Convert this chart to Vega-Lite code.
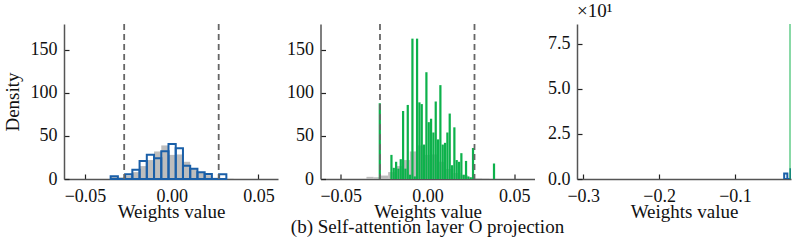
{
  "$schema": "https://vega.github.io/schema/vega-lite/v6.json",
  "padding": {"left": 3, "top": 2, "right": 4, "bottom": 3},
  "spacing": 42.5,
  "bounds": "flush",
  "config": {
    "font": "Liberation Serif",
    "view": {"stroke": null},
    "axis": {
      "grid": false,
      "domainColor": "#555555",
      "domainWidth": 1.5,
      "tickColor": "#222222",
      "tickSize": -5,
      "tickWidth": 1.2,
      "labelFont": "Liberation Serif",
      "labelFontSize": 18,
      "labelColor": "#111111",
      "titleFont": "Liberation Serif",
      "titleFontSize": 19,
      "titleFontWeight": "normal",
      "titleColor": "#111111"
    },
    "axisX": {"labelPadding": 13, "titlePadding": -3, "labelFlush": false},
    "axisY": {"labelPadding": 12, "titlePadding": 8}
  },
  "datasets": {
    "gray": [
      {"x0": -0.0352, "x1": -0.03103, "density": 2.5},
      {"x0": -0.03103, "x1": -0.02686, "density": 2},
      {"x0": -0.02686, "x1": -0.02269, "density": 4},
      {"x0": -0.02269, "x1": -0.01852, "density": 8},
      {"x0": -0.01852, "x1": -0.01435, "density": 15},
      {"x0": -0.01435, "x1": -0.01018, "density": 22},
      {"x0": -0.01018, "x1": -0.00601, "density": 32},
      {"x0": -0.00601, "x1": -0.00184, "density": 39},
      {"x0": -0.00184, "x1": 0.00233, "density": 28},
      {"x0": 0.00233, "x1": 0.0065, "density": 28.5},
      {"x0": 0.0065, "x1": 0.01067, "density": 20},
      {"x0": 0.01067, "x1": 0.01484, "density": 11.5},
      {"x0": 0.01484, "x1": 0.01901, "density": 7},
      {"x0": 0.01901, "x1": 0.02318, "density": 4.5},
      {"x0": 0.02318, "x1": 0.02735, "density": 1.5},
      {"x0": 0.02735, "x1": 0.03152, "density": 1},
      {"x0": 0.03152, "x1": 0.03569, "density": 0.5}
    ],
    "blue": [
      {"x0": -0.0352, "x1": -0.03103, "density": 3.1},
      {"x0": -0.03103, "x1": -0.02686, "density": 0},
      {"x0": -0.02686, "x1": -0.02269, "density": 5.4},
      {"x0": -0.02269, "x1": -0.01852, "density": 10.8},
      {"x0": -0.01852, "x1": -0.01435, "density": 20.9},
      {"x0": -0.01435, "x1": -0.01018, "density": 28.2},
      {"x0": -0.01018, "x1": -0.00601, "density": 24},
      {"x0": -0.00601, "x1": -0.00184, "density": 32.1},
      {"x0": -0.00184, "x1": 0.00233, "density": 40.6},
      {"x0": 0.00233, "x1": 0.0065, "density": 35.6},
      {"x0": 0.0065, "x1": 0.01067, "density": 15.5},
      {"x0": 0.01067, "x1": 0.01484, "density": 12},
      {"x0": 0.01484, "x1": 0.01901, "density": 7.7},
      {"x0": 0.01901, "x1": 0.02318, "density": 5.8},
      {"x0": 0.02318, "x1": 0.02735, "density": 0},
      {"x0": 0.02735, "x1": 0.03152, "density": 5.4}
    ],
    "green": [
      {"x0": -0.02815, "x1": -0.02687, "density": 88},
      {"x0": -0.02143, "x1": -0.02015, "density": 28},
      {"x0": -0.02009, "x1": -0.01881, "density": 13},
      {"x0": -0.01874, "x1": -0.01746, "density": 20},
      {"x0": -0.0174, "x1": -0.01612, "density": 12},
      {"x0": -0.01606, "x1": -0.01478, "density": 23},
      {"x0": -0.01471, "x1": -0.01343, "density": 79},
      {"x0": -0.01337, "x1": -0.01209, "density": 12},
      {"x0": -0.01202, "x1": -0.01074, "density": 86},
      {"x0": -0.01068, "x1": -0.0094, "density": 5},
      {"x0": -0.00933, "x1": -0.00805, "density": 163},
      {"x0": -0.00799, "x1": -0.00671, "density": 3},
      {"x0": -0.00665, "x1": -0.00537, "density": 163},
      {"x0": -0.0053, "x1": -0.00402, "density": 89},
      {"x0": -0.00396, "x1": -0.00268, "density": 87},
      {"x0": -0.00261, "x1": -0.00133, "density": 40},
      {"x0": -0.00127, "x1": 0.00001, "density": 124},
      {"x0": 0.00007, "x1": 0.00135, "density": 66},
      {"x0": 0.00142, "x1": 0.0027, "density": 70},
      {"x0": 0.00276, "x1": 0.00404, "density": 54},
      {"x0": 0.00411, "x1": 0.00539, "density": 90},
      {"x0": 0.00545, "x1": 0.00673, "density": 46},
      {"x0": 0.00679, "x1": 0.00807, "density": 109},
      {"x0": 0.00814, "x1": 0.00942, "density": 40},
      {"x0": 0.00948, "x1": 0.01076, "density": 42},
      {"x0": 0.01083, "x1": 0.01211, "density": 54},
      {"x0": 0.01217, "x1": 0.01345, "density": 76},
      {"x0": 0.01351, "x1": 0.01479, "density": 16},
      {"x0": 0.01486, "x1": 0.01614, "density": 60},
      {"x0": 0.0162, "x1": 0.01748, "density": 22},
      {"x0": 0.01755, "x1": 0.01883, "density": 20},
      {"x0": 0.01889, "x1": 0.02017, "density": 30},
      {"x0": 0.02023, "x1": 0.02151, "density": 5},
      {"x0": 0.02158, "x1": 0.02286, "density": 21},
      {"x0": 0.02292, "x1": 0.0242, "density": 3},
      {"x0": 0.02427, "x1": 0.02555, "density": 2},
      {"x0": 0.02561, "x1": 0.02689, "density": 36},
      {"x0": 0.03771, "x1": 0.03899, "density": 18}
    ],
    "lines": [{"x": -0.0274}, {"x": 0.0271}]
  },
  "hconcat": [
    {
      "width": 214,
      "height": 155,
      "layer": [
        {
          "data": {"name": "gray"},
          "mark": {"type": "bar", "color": "#bdbdbd"},
          "encoding": {
            "x": {"field": "x0", "type": "quantitative", "scale": {"domain": [-0.0621, 0.0613], "nice": false, "zero": false},
              "axis": {"values": [-0.05, 0, 0.05], "format": ".2f", "title": "Weights value"}},
            "x2": {"field": "x1"},
            "y": {"field": "density", "type": "quantitative", "scale": {"domain": [0, 180], "nice": false},
              "axis": {"values": [0, 50, 100, 150], "format": "d", "title": "Density"}},
            "y2": {"datum": 0}
          }
        },
        {
          "data": {"name": "blue"},
          "mark": {"type": "bar", "fill": "transparent", "stroke": "#1a5fa8", "strokeWidth": 2},
          "encoding": {
            "x": {"field": "x0", "type": "quantitative"},
            "x2": {"field": "x1"},
            "y": {"field": "density", "type": "quantitative"},
            "y2": {"datum": 0}
          }
        },
        {
          "data": {"name": "lines"},
          "mark": {"type": "rule", "color": "#666666", "strokeWidth": 1.8, "strokeDash": [6, 4]},
          "encoding": {"x": {"field": "x", "type": "quantitative"}}
        }
      ]
    },
    {
      "width": 214,
      "height": 155,
      "title": {"text": "(b) Self-attention layer O projection", "orient": "bottom", "anchor": "middle", "frame": "group", "font": "Liberation Serif", "fontSize": 19, "fontWeight": "normal", "color": "#111111", "offset": -3},
      "layer": [
        {
          "data": {"name": "gray"},
          "mark": {"type": "bar", "color": "#bdbdbd"},
          "encoding": {
            "x": {"field": "x0", "type": "quantitative", "scale": {"domain": [-0.0617, 0.0617], "nice": false, "zero": false},
              "axis": {"values": [-0.05, 0, 0.05], "format": ".2f", "title": "Weights value"}},
            "x2": {"field": "x1"},
            "y": {"field": "density", "type": "quantitative", "scale": {"domain": [0, 180], "nice": false},
              "axis": {"values": [0, 50, 100, 150], "format": "d", "title": null}},
            "y2": {"datum": 0}
          }
        },
        {
          "data": {"name": "green"},
          "mark": {"type": "bar", "color": "#0db14b"},
          "encoding": {
            "x": {"field": "x0", "type": "quantitative"},
            "x2": {"field": "x1"},
            "y": {"field": "density", "type": "quantitative"},
            "y2": {"datum": 0}
          }
        },
        {
          "data": {"name": "lines"},
          "mark": {"type": "rule", "color": "#666666", "strokeWidth": 1.8, "strokeDash": [6, 4]},
          "encoding": {"x": {"field": "x", "type": "quantitative"}}
        }
      ]
    },
    {
      "width": 214,
      "height": 155,
      "title": {"text": "×10¹", "orient": "top", "anchor": "start", "frame": "group", "font": "Liberation Serif", "fontSize": 19, "fontWeight": "normal", "color": "#111111", "offset": 3},
      "layer": [
        {
          "data": {"name": "blue"},
          "mark": {"type": "bar", "fill": "transparent", "stroke": "#1a5fa8", "strokeWidth": 2, "clip": true},
          "encoding": {
            "x": {"field": "x0", "type": "quantitative", "scale": {"domain": [-0.3083, -0.0262], "nice": false, "zero": false},
              "axis": {"values": [-0.3, -0.2, -0.1], "format": ".1f", "title": "Weights value"}},
            "x2": {"field": "x1"},
            "y": {"field": "density", "type": "quantitative", "scale": {"domain": [0, 86], "nice": false},
              "axis": {"values": [0, 25, 50, 75], "labelExpr": "format(datum.value / 10, '.1f')", "title": null}},
            "y2": {"datum": 0}
          }
        },
        {
          "data": {"name": "green"},
          "mark": {"type": "bar", "color": "#0db14b", "clip": true},
          "encoding": {
            "x": {"field": "x0", "type": "quantitative"},
            "x2": {"field": "x1"},
            "y": {"field": "density", "type": "quantitative"},
            "y2": {"datum": 0}
          }
        }
      ]
    }
  ]
}
